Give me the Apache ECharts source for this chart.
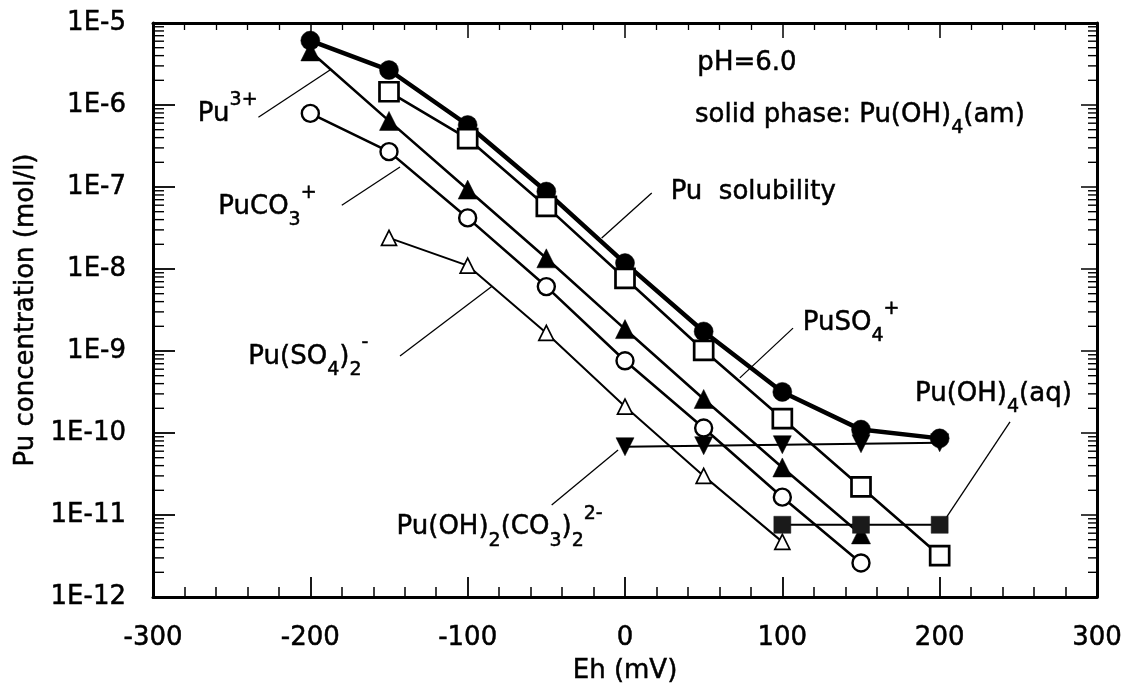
<!DOCTYPE html>
<html>
<head>
<meta charset="utf-8">
<script src="https://cdn.jsdelivr.net/npm/echarts@6/dist/echarts.min.js"></script>
<style>
  html, body { margin: 0; padding: 0; background: #fff; }
  #chart { width: 1128px; height: 693px; }
</style>
</head>
<body>
<div id="chart"></div>
<script>
// Eh values (mV) at which the speciation was computed
const ehValues = [-200, -150, -100, -50, 0, 50, 100, 150, 200];

// Concentrations (mol/l); null where a species is not plotted
const puSolubility = [6.1e-6, 2.67e-6, 5.7e-7, 8.8e-8, 1.18e-8, 1.73e-9, 3.17e-10, 1.1e-10, 8.6e-11];
const puSO4 = [null, 1.45e-6, 3.9e-7, 5.8e-8, 7.7e-9, 1.02e-9, 1.5e-10, 2.2e-11, 3.2e-12];
const pu3 = [4.5e-6, 6.4e-7, 9.3e-8, 1.35e-8, 1.85e-9, 2.6e-10, 3.8e-11, 5.8e-12, null];
const puCO3 = [7.9e-7, 2.7e-7, 4.2e-8, 6.1e-9, 7.6e-10, 1.15e-10, 1.65e-11, 2.6e-12, null];
const puSO4_2 = [null, 2.4e-8, 1.1e-8, 1.66e-9, 2.1e-10, 3.0e-11, 4.7e-12, null, null];
const puOH2CO3_2 = [null, null, null, null, 6.8e-11, 7.0e-11, 7.2e-11, 7.4e-11, 7.6e-11];
const puOH4aq = [null, null, null, null, null, null, 7.6e-12, 7.6e-12, 7.6e-12];

// Axis ticks
const xTickValues = [-300, -200, -100, 0, 100, 200, 300];
const yDecades = [-12, -11, -10, -9, -8, -7, -6, -5];
const yMinorMultipliers = [2, 3, 4, 5, 6, 7, 8, 9];

// Annotations: [Eh, concentration] anchors for text and leader lines
const annotations = [
  { text: '{b|Pu}{sup|3+}', at: [-271.5, 7.8e-7], leader: [[-233, 7.1e-7], [-187.5, 2.67e-6]] },
  { text: '{b|PuCO}{sub|3}{sup|+}', at: [-258.5, 5.7e-8], leader: [[-180, 6.0e-8], [-143, 1.75e-7]] },
  { text: '{b|Pu(SO}{sub|4}{b|)}{sub|2}{sup|-}', at: [-239.4, 8.45e-10], leader: [[-143, 8.7e-10], [-84.7, 6.1e-9]] },
  { text: '{b|Pu(OH)}{sub|2}{b|(CO}{sub|3}{b|)}{sub|2}{sup|2-}', at: [-145.2, 7.1e-12], leader: [[-46.6, 1.32e-11], [-4.4, 6.2e-11]] },
  { text: '{b|PuSO}{sub|4}{sup|+}', at: [113, 2.2e-9], leader: [[106.8, 1.9e-9], [73, 4.7e-10]] },
  { text: '{b|Pu(OH)}{sub|4}{b|(aq)}', at: [184.3, 3.0e-10], leader: [[244.7, 1.37e-10], [204.5, 9.5e-12]] },
  { text: '{b|Pu  solubility}', at: [29, 8.7e-8], leader: [[17, 8.45e-8], [-14.8, 2.39e-8]] },
  { text: '{b|pH=6.0}', at: [46, 3.25e-6], leader: null },
  { text: '{b|solid phase: Pu(OH)}{sub|4}{b|(am)}', at: [44.5, 7.55e-7], leader: null }
];

const FONT = 'DejaVu Sans';
const FS = 26;
const INK = '#000';
const TEXT_WEIGHT = 0.5;

function pairs(values) {
  const out = [];
  ehValues.forEach((eh, i) => { if (values[i] != null) out.push([eh, values[i]]); });
  return out;
}

const minorTickValues = [];
yDecades.slice(0, -1).forEach(d => {
  yMinorMultipliers.forEach(m => minorTickValues.push([0, m * Math.pow(10, d)]));
});

function lineSeries(name, values, symbol, size, filled, opts) {
  opts = opts || {};
  return {
    name: name,
    type: 'line',
    data: pairs(values),
    symbol: symbol,
    symbolSize: size,
    symbolRotate: opts.rotate || 0,
    showSymbol: true,
    lineStyle: { color: INK, width: opts.lineWidth || 2.6 },
    itemStyle: filled
      ? { color: opts.fill || INK, borderColor: opts.fill || INK, borderWidth: 0.5 }
      : { color: '#fff', borderColor: INK, borderWidth: opts.border || 2.5 },
    emphasis: { disabled: true },
    z: opts.z || 3
  };
}

const labelText = {
  fontFamily: FONT, fontSize: FS, color: INK,
  textBorderColor: INK, textBorderWidth: TEXT_WEIGHT
};

const chart = echarts.init(document.getElementById('chart'), null, { renderer: 'canvas' });

const option = {
  animation: false,
  backgroundColor: '#fff',
  grid: { left: 153, right: 31, top: 23, bottom: 96, containLabel: false },
  xAxis: [
    {
      type: 'value', min: -300, max: 300, interval: 100,
      name: 'Eh (mV)', nameLocation: 'middle', nameGap: 61,
      nameTextStyle: labelText,
      axisLine: { show: true, onZero: false, lineStyle: { color: INK, width: 3 } },
      axisTick: { show: true, inside: true, length: 20, lineStyle: { color: INK, width: 1.8 } },
      minorTick: { show: true, splitNumber: 5, length: 10, lineStyle: { color: INK, width: 1.5 } },
      axisLabel: Object.assign({ margin: 28, customValues: xTickValues }, labelText),
      splitLine: { show: false }
    },
    {
      type: 'value', position: 'top', min: -300, max: 300, interval: 100,
      axisLine: { show: true, onZero: false, lineStyle: { color: INK, width: 3 } },
      axisTick: { show: true, inside: true, length: 15, lineStyle: { color: INK, width: 1.5 } },
      minorTick: { show: true, splitNumber: 5, length: 7, lineStyle: { color: INK, width: 1.3 } },
      axisLabel: { show: false },
      splitLine: { show: false }
    }
  ],
  yAxis: [
    {
      type: 'log', logBase: 10, min: 1e-12, max: 1e-5,
      name: 'Pu concentration (mol/l)', nameLocation: 'middle', nameGap: 100, nameRotate: 90,
      nameTextStyle: labelText,
      axisLine: { show: true, onZero: false, lineStyle: { color: INK, width: 3 } },
      axisTick: { show: true, inside: true, length: 22, lineStyle: { color: INK, width: 1.8 } },
      axisLabel: Object.assign({
        margin: 27,
        formatter: v => '1E' + Math.round(Math.log10(v))
      }, labelText),
      splitLine: { show: false }
    },
    {
      type: 'log', logBase: 10, min: 1e-12, max: 1e-5, position: 'right',
      axisLine: { show: true, onZero: false, lineStyle: { color: INK, width: 3 } },
      axisTick: { show: true, inside: true, length: 16, lineStyle: { color: INK, width: 1.5 } },
      axisLabel: { show: false },
      splitLine: { show: false }
    }
  ],
  series: [
    {
      name: 'log minor ticks',
      type: 'custom',
      silent: true,
      data: minorTickValues,
      renderItem: (params, api) => {
        const v = api.value(1);
        const l = api.coord([-300, v]);
        const r = api.coord([300, v]);
        return {
          type: 'group',
          children: [
            { type: 'line', shape: { x1: l[0], y1: l[1], x2: l[0] + 11, y2: l[1] },
              style: { stroke: INK, lineWidth: 1.4 } },
            { type: 'line', shape: { x1: r[0], y1: r[1], x2: r[0] - 9, y2: r[1] },
              style: { stroke: INK, lineWidth: 1.4 } }
          ]
        };
      },
      z: 1
    },
    lineSeries('Pu(SO4)2-', puSO4_2, 'triangle', 15, false, { lineWidth: 2, border: 1.7 }),
    lineSeries('Pu(OH)2(CO3)2 2-', puOH2CO3_2, 'triangle', 18, true, { lineWidth: 2, rotate: 180 }),
    lineSeries('Pu3+', pu3, 'triangle', 19, true, { lineWidth: 2.6 }),
    lineSeries('PuCO3+', puCO3, 'circle', 17, false, { lineWidth: 2.6, border: 2.4 }),
    lineSeries('Pu solubility', puSolubility, 'circle', 19, true, { lineWidth: 4.5 }),
    lineSeries('Pu(OH)4(aq)', puOH4aq, 'rect', 17, true, { lineWidth: 2, fill: '#1a1a1a' }),
    lineSeries('PuSO4+', puSO4, 'rect', 19, false, { lineWidth: 2.6, border: 2.7 })
  ]
};

chart.setOption(option);

// Annotation text with sub/superscripts and leader lines, placed in data coordinates
const tokenBase = { fontFamily: FONT, fill: INK, stroke: INK, lineWidth: TEXT_WEIGHT };
const rich = {
  b: Object.assign({ fontSize: FS, lineHeight: 46, verticalAlign: 'middle' }, tokenBase),
  sub: Object.assign({ fontSize: 19, lineHeight: 19, verticalAlign: 'bottom' }, tokenBase),
  sup: Object.assign({ fontSize: 19, lineHeight: 25, verticalAlign: 'top' }, tokenBase)
};
const toPx = p => chart.convertToPixel({ xAxisIndex: 0, yAxisIndex: 0 }, p);
const graphics = [];
annotations.forEach(a => {
  const p = toPx(a.at);
  graphics.push({
    type: 'text', x: p[0], y: p[1], silent: true, z: 10,
    style: { text: a.text, rich: rich, align: 'left', verticalAlign: 'middle',
      fontFamily: FONT, fontSize: FS, fill: INK }
  });
  if (a.leader) {
    const s = toPx(a.leader[0]);
    const e = toPx(a.leader[1]);
    graphics.push({
      type: 'line', silent: true, z: 10,
      shape: { x1: s[0], y1: s[1], x2: e[0], y2: e[1] },
      style: { stroke: INK, lineWidth: 1.3 }
    });
  }
});
chart.setOption({ graphic: graphics });
</script>
</body>
</html>
